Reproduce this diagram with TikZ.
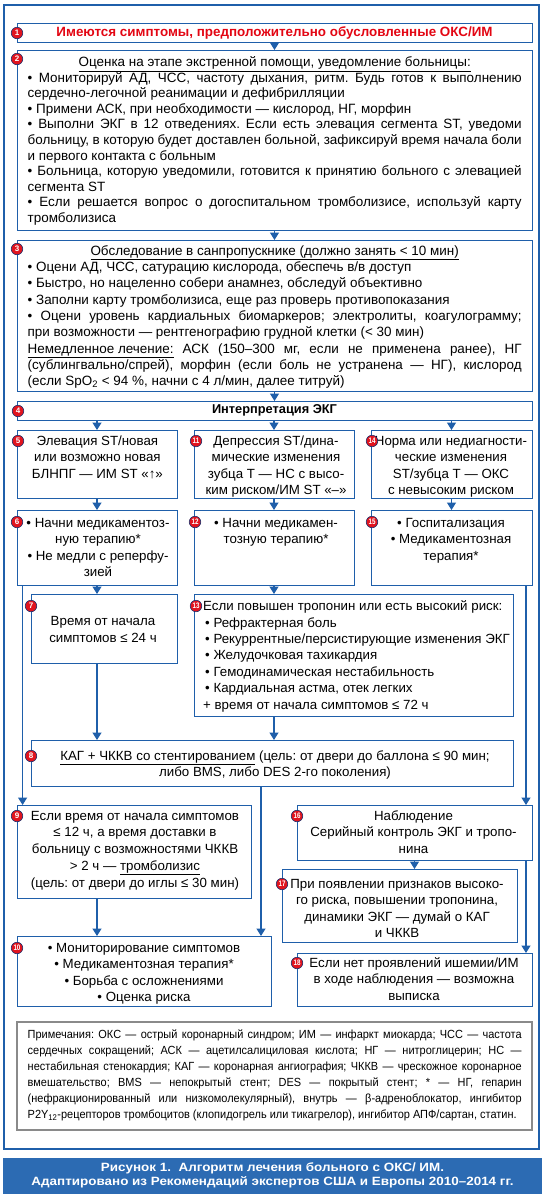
\documentclass[tikz,border=0pt]{standalone}
\usepackage{fontspec}
\usepackage{graphicx}
\setmainfont{Liberation Sans}
\newfontfamily\notefont[FakeStretch=0.93]{Liberation Sans}
\newfontfamily\capfont[FakeStretch=1.12]{Liberation Sans}
\usetikzlibrary{arrows.meta,calc}
\definecolor{frameblue}{HTML}{1F5FAA}
\definecolor{capblue}{HTML}{2C6BB3}
\definecolor{numred}{HTML}{E1141E}
\definecolor{titlered}{HTML}{E30613}
\definecolor{navy}{HTML}{1B2F6B}
\definecolor{notegray}{HTML}{8A8A8A}
\frenchspacing
\newcommand\T{\rule{0pt}{12.5pt}}
\newcommand\Tn{\rule{0pt}{11pt}}
\newcommand\J[1]{\makebox[494pt][s]{#1}}
\newcommand\Dn[1]{\scalebox{0.78}[1]{#1}}
\tikzset{
 box/.style={draw=frameblue, line width=1pt, anchor=north west, inner sep=0pt, outer sep=0pt},
 txt/.style={anchor=north, inner sep=0pt, font=\fontsize{13.3}{16.4}\selectfont, align=center},
 num/.style={circle, fill=numred, draw=navy, line width=0.6pt, minimum size=11.5pt, inner sep=0pt, text=white, font=\fontsize{8}{8}\selectfont\bfseries},
 arr/.style={draw=frameblue, line width=1.2pt, -{Triangle[width=9pt,length=7.5pt]}},
}
\begin{document}
\begin{tikzpicture}[x=1pt,y=-1pt]
\path[use as bounding box, fill=white] (0,0) rectangle (545,1200);
\node[box, line width=1.2pt, minimum width=535pt, minimum height=1144pt] (frame) at (4,5) {};
% boxes
\node[box, anchor=center, minimum width=515pt, minimum height=19pt, text=titlered, font=\fontsize{13.4}{14}\selectfont\bfseries] (b1) at (274.5,32.5) {Имеются симптомы, предположительно обусловленные ОКС/ИМ};
\node[box, minimum width=515pt, minimum height=180pt] (b2) at (17,50) {};
\node[box, minimum width=515pt, minimum height=151pt] (b3) at (17,240) {};
\node[box, anchor=center, minimum width=515pt, minimum height=19pt, font=\fontsize{12.8}{14}\selectfont\bfseries] (b4) at (274.5,410.5) {Интерпретация ЭКГ};
\node[box, minimum width=160pt, minimum height=68pt] (b5) at (17,430) {};
\node[box, minimum width=160pt, minimum height=68pt] (b11) at (194,430) {};
\node[box, minimum width=161pt, minimum height=68pt] (b14) at (371,430) {};
\node[box, minimum width=160pt, minimum height=75pt] (b6) at (17,510) {};
\node[box, minimum width=160pt, minimum height=75pt] (b12) at (194,510) {};
\node[box, minimum width=161pt, minimum height=75pt] (b15) at (371,510) {};
\node[box, minimum width=146pt, minimum height=69pt] (b7) at (31,594) {};
\node[box, minimum width=319pt, minimum height=122pt] (b13) at (194,594) {};
\node[box, minimum width=482pt, minimum height=46pt] (b8) at (31,740) {};
\node[box, minimum width=234pt, minimum height=93pt] (b9) at (17,805) {};
\node[box, minimum width=235pt, minimum height=55pt] (b16) at (297,805) {};
\node[box, minimum width=235pt, minimum height=73pt] (b17) at (282,869) {};
\node[box, minimum width=254pt, minimum height=70pt] (b10) at (17,936) {};
\node[box, minimum width=235pt, minimum height=53pt] (b18) at (297,953) {};
\node[box, draw=notegray, line width=1.5pt, minimum width=515pt, minimum height=108pt] (notes) at (17,1022) {};
\node[fill=capblue, inner sep=0pt, minimum width=539pt, minimum height=36pt, align=center, text=white, font=\capfont\bfseries\fontsize{12}{14.5}\selectfont] (cap) at (272.5,1175.5) {Рисунок 1.\ \ Алгоритм лечения больного с ОКС/ ИМ.\\Адаптировано из Рекомендаций экспертов США и Европы 2010–2014 гг.};
% texts
\node[txt, align=left, font=\fontsize{13.45}{15.55}\selectfont] (t2) at (274.7,54) {\makebox[494pt][c]{\T\underline{Оценка на этапе экстренной помощи, уведомление больницы:}}\\
\J{• Мониторируй АД, ЧСС, частоту дыхания, ритм. Будь готов к выполнению}\\
сердечно-легочной реанимации и дефибрилляции\\
• Примени АСК, при необходимости — кислород, НГ, морфин\\
\J{• Выполни ЭКГ в 12 отведениях. Если есть элевация сегмента ST, уведоми}\\
\J{больницу, в которую будет доставлен больной, зафиксируй время начала боли}\\
и первого контакта с больным\\
\J{• Больница, которую уведомили, готовится к принятию больного с элевацией}\\
сегмента ST\\
\J{• Если решается вопрос о догоспитальном тромболизисе, используй карту}\\
тромболизиса};
\node[txt, align=left, font=\fontsize{13.45}{16.3}\selectfont] (t3) at (274.7,242.5) {\makebox[494pt][c]{\T\underline{Обследование в санпропускнике (должно занять < 10 мин)}}\\
• Оцени АД, ЧСС, сатурацию кислорода, обеспечь в/в доступ\\
• Быстро, но нацеленно собери анамнез, обследуй объективно\\
• Заполни карту тромболизиса, еще раз проверь противопоказания\\
\J{• Оцени уровень кардиальных биомаркеров; электролиты, коагулограмму;}\\
при возможности — рентгенографию грудной клетки (< 30 мин)\\
\J{\underline{Немедленное лечение:} АСК (150–300 мг, если не применена ранее), НГ}\\
\J{(сублингвально/спрей), морфин (если боль не устранена — НГ), кислород}\\
(если SpO\textsubscript{2} < 94 \%, начни с 4 л/мин, далее титруй)};
\node[txt] (t5) at (97.4,432.5) {\T Элевация ST/новая\\или возможно новая\\БЛНПГ — ИМ ST «↑»};
\node[txt] (t11) at (276,432.5) {\T Депрессия ST/дина-\\мические изменения\\зубца Т — НС с высо-\\ким риском/ИМ ST «–»};
\node[txt] (t14) at (451,432.5) {\T Норма или недиагности-\\ческие изменения\\ST/зубца Т — ОКС\\с невысоким риском};
\node[txt] (t6) at (98,514.5) {\T • Начни медикаментоз-\\ную терапию*\\• Не медли с реперфу-\\зией};
\node[txt] (t12) at (276,514.5) {\T • Начни медикамен-\\тозную терапию*};
\node[txt] (t15) at (451,514.5) {\T • Госпитализация\\• Медикаментозная\\терапия*};
\node[txt] (t7) at (103,613) {\T Время от начала\\симптомов ≤ 24 ч};
\node[txt, anchor=north west, align=left] (t13) at (203,598) {\T Если повышен тропонин или есть высокий риск:\\
\hspace{2pt}• Рефрактерная боль\\
\hspace{2pt}• Рекуррентные/персистирующие изменения ЭКГ\\
\hspace{2pt}• Желудочковая тахикардия\\
\hspace{2pt}• Гемодинамическая нестабильность\\
\hspace{2pt}• Кардиальная астма, отек легких\\
+ время от начала симптомов ≤ 72 ч};
\node[txt] (t8) at (275,747.5) {\T\underline{КАГ + ЧККВ со стентированием} (цель: от двери до баллона ≤ 90 мин;\\либо BMS, либо DES 2-го поколения)};
\node[txt, font=\fontsize{13.3}{16.7}\selectfont] (t9) at (135,807.5) {\T Если время от начала симптомов\\≤ 12 ч, а время доставки в\\больницу с возможностями ЧККВ\\> 2 ч — \underline{тромболизис}\\(цель: от двери до иглы ≤ 30 мин)};
\node[txt, font=\fontsize{13.3}{16.7}\selectfont] (t16) at (413.5,807.5) {\T Наблюдение\\Серийный контроль ЭКГ и тропо-\\нина};
\node[txt, font=\fontsize{13.3}{16.5}\selectfont] (t17) at (397,875.5) {\T При появлении признаков высоко-\\го риска, повышении тропонина,\\динамики ЭКГ — думай о КАГ\\и ЧККВ};
\node[txt] (t10) at (144,939.5) {\T • Мониторирование симптомов\\• Медикаментозная терапия*\\• Борьба с осложнениями\\• Оценка риска};
\node[txt] (t18) at (414,954.5) {\T Если нет проявлений ишемии/ИМ\\в ходе наблюдения — возможна\\выписка};
\node[txt, align=left, font=\notefont\fontsize{11.8}{15.9}\selectfont] (tn) at (274.7,1027.5) {\J{\Tn Примечания: ОКС — острый коронарный синдром; ИМ — инфаркт миокарда; ЧСС — частота}\\
\J{сердечных сокращений; АСК — ацетилсалициловая кислота; НГ — нитроглицерин; НС —}\\
\J{нестабильная стенокардия; КАГ — коронарная ангиография; ЧККВ — чрескожное коронарное}\\
\J{вмешательство; BMS — непокрытый стент; DES — покрытый стент; * — НГ, гепарин}\\
\J{(нефракционированный или низкомолекулярный), внутрь — β-адреноблокатор, ингибитор}\\
P2Y\textsubscript{12}-рецепторов тромбоцитов (клопидогрель или тикагрелор), ингибитор АПФ/сартан, статин.};
% connectors
\draw[arr] (b1.south) -- (b2.north);
\draw[arr] (b2.south) -- (b3.north);
\draw[arr] (b3.south) -- (b4.north);
\draw[arr] (b4.south -| b5.north) -- (b5.north);
\draw[arr] (b4.south -| b11.north) -- (b11.north);
\draw[arr] (b4.south -| b14.north) -- (b14.north);
\draw[arr] (b5.south) -- (b6.north);
\draw[arr] (b11.south) -- (b12.north);
\draw[arr] (b14.south) -- (b15.north);
\draw[arr] (b6.south) -- (b6.south |- b7.north);
\draw[arr] (b12.south) -- (b12.south |- b13.north);
\draw[arr] (b7.south -| b6.south) -- (b8.north -| b6.south);
\draw[arr] (b13.south -| b12.south) -- (b8.north -| b12.south);
\coordinate (l6) at ($(b6.south west)+(5.6,0)$);
\draw[arr] (l6) -- (l6 |- b9.north);
\coordinate (r15) at ($(b15.south east)+(-6,0)$);
\draw[arr] (r15) -- (r15 |- b16.north);
\draw[arr] (r15 |- b16.south) -- (r15 |- b18.north);
\draw[arr] (b16.south) -- (b16.south |- b17.north);
\coordinate (c8) at ($(b8.south west)+(230,0)$);
\draw[arr] (c8) -- (c8 |- b10.north);
\draw[arr] (b9.south -| b6.south) -- (b10.north -| b6.south);
% numbers
\node[num] (n1) at (17,33) {1};
\node[num] (n2) at (17,59) {2};
\node[num] (n3) at (17,249) {3};
\node[num] (n4) at (18,411) {4};
\node[num] (n5) at (18,441) {5};
\node[num] (n11) at (196,441) {\Dn{11}};
\node[num] (n14) at (372,441) {\Dn{14}};
\node[num] (n6) at (17,522) {6};
\node[num] (n12) at (195,522) {\Dn{12}};
\node[num] (n15) at (372,522) {\Dn{15}};
\node[num] (n7) at (31,606) {7};
\node[num] (n13) at (196,606) {\Dn{13}};
\node[num] (n8) at (31,756) {8};
\node[num] (n9) at (17,816) {9};
\node[num] (n16) at (297,816) {\Dn{16}};
\node[num] (n17) at (282,884) {\Dn{17}};
\node[num] (n10) at (17,948) {\Dn{10}};
\node[num] (n18) at (297,963) {\Dn{18}};
\end{tikzpicture}
\end{document}
